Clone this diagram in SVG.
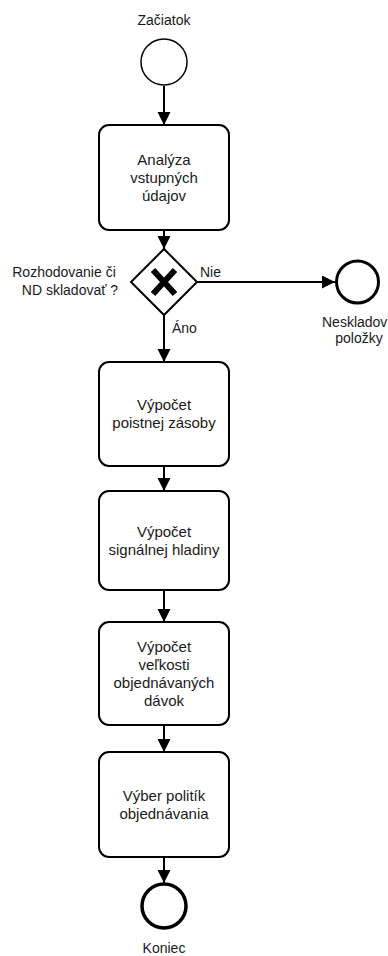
<svg xmlns="http://www.w3.org/2000/svg" width="388" height="956" viewBox="0 0 388 956">
<defs>
<marker id="arr" markerUnits="userSpaceOnUse" markerWidth="14" markerHeight="14" refX="13" refY="6.5" orient="auto">
<path d="M0,0 L13,6.5 L0,13 z" fill="#000"/>
</marker>
<style>
.box{fill:#fff;stroke:#000;stroke-width:2}
.t{font-family:"Liberation Sans",Arial,sans-serif;font-size:15px;fill:#1a1a1a;text-anchor:middle}
.l{font-family:"Liberation Sans",Arial,sans-serif;font-size:14px;fill:#1a1a1a}
.c{stroke:#000;stroke-width:2;fill:none;marker-end:url(#arr)}
</style>
</defs>
<rect width="388" height="956" fill="#fff"/>
<g id="connectors">
<path class="c" d="M164,86 L164,125"/>
<path class="c" d="M164,231 L164,249"/>
<path class="c" d="M197,282 L335,282"/>
<path class="c" d="M164,315 L164,362"/>
<path class="c" d="M164,466 L164,491"/>
<path class="c" d="M164,590 L164,622"/>
<path class="c" d="M164,725 L164,752"/>
<path class="c" d="M164,857 L164,883"/>
</g>
<g id="start">
<circle cx="164" cy="62" r="23" fill="#fff" stroke="#000" stroke-width="1.5"/>
<text class="l" x="164" y="25" text-anchor="middle">Začiatok</text>
</g>
<g id="analyza">
<rect class="box" x="99" y="125" width="130" height="105" rx="10"/>
<text class="t" x="164" y="165">Analýza</text>
<text class="t" x="164" y="183">vstupných</text>
<text class="t" x="164" y="201">údajov</text>
</g>
<g id="gateway">
<path d="M164,249 L197,282 L164,315 L131,282 z" fill="#fff" stroke="#000" stroke-width="2"/>
<path d="M153,270 L175,294 M175,270 L153,294" stroke="#000" stroke-width="6" fill="none"/>
<text class="l" x="64" y="277" text-anchor="middle">Rozhodovanie či</text>
<text class="l" x="70" y="295" text-anchor="middle">ND skladovať ?</text>
<text class="l" x="200" y="277">Nie</text>
<text class="l" x="172" y="333">Áno</text>
</g>
<g id="neskladovane">
<circle cx="357.5" cy="282" r="21" fill="#fff" stroke="#000" stroke-width="3"/>
<text class="l" x="322" y="327">Neskladov</text>
<text class="l" x="359" y="343" text-anchor="middle">položky</text>
</g>
<g id="poistna">
<rect class="box" x="99" y="362" width="130" height="104" rx="10"/>
<text class="t" x="164" y="410">Výpočet</text>
<text class="t" x="164" y="428">poistnej zásoby</text>
</g>
<g id="signalna">
<rect class="box" x="99" y="491" width="130" height="99" rx="10"/>
<text class="t" x="164" y="537">Výpočet</text>
<text class="t" x="164" y="555">signálnej hladiny</text>
</g>
<g id="davky">
<rect class="box" x="99" y="622" width="130" height="103" rx="10"/>
<text class="t" x="164" y="652">Výpočet</text>
<text class="t" x="164" y="670">veľkosti</text>
<text class="t" x="164" y="688">objednávaných</text>
<text class="t" x="164" y="706">dávok</text>
</g>
<g id="politiky">
<rect class="box" x="99" y="752" width="130" height="105" rx="10"/>
<text class="t" x="164" y="801">Výber politík</text>
<text class="t" x="164" y="819">objednávania</text>
</g>
<g id="koniec">
<circle cx="164" cy="906" r="22" fill="#fff" stroke="#000" stroke-width="3.5"/>
<text class="l" x="164" y="953" text-anchor="middle">Koniec</text>
</g>
</svg>
